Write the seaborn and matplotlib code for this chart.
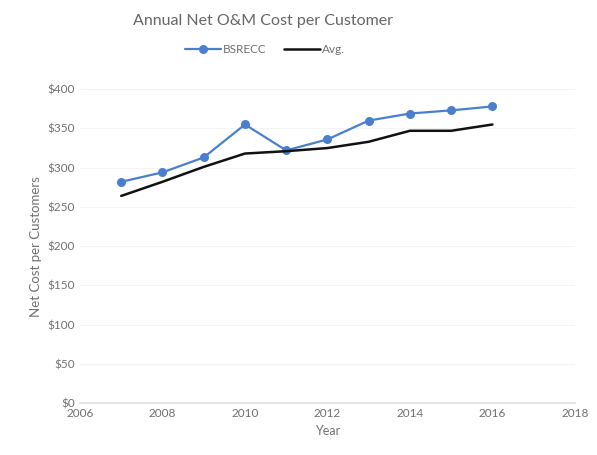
import matplotlib
matplotlib.use("Agg")
import matplotlib.pyplot as plt
import seaborn as sns
import pandas as pd

years = [2007, 2008, 2009, 2010, 2011, 2012, 2013, 2014, 2015, 2016]
bsrecc = [282, 294, 313, 355, 322, 336, 360, 369, 373, 378]
avg = [264, 282, 301, 318, 321, 325, 333, 347, 347, 355]
xticks = [2006, 2008, 2010, 2012, 2014, 2016, 2018]
yticks = [0, 50, 100, 150, 200, 250, 300, 350, 400]

sns.set_theme(style="white")
plt.rcParams['font.family'] = ['Lato', 'DejaVu Sans']

df = pd.DataFrame({"Year": years * 2,
                   "Value": bsrecc + avg,
                   "Series": ["BSRECC"] * len(years) + ["Avg."] * len(years)})

fig = plt.figure(figsize=(5.97, 4.55), dpi=100)
ax = fig.add_axes([0.134, 0.114, 0.829, 0.69])

sns.lineplot(data=df[df.Series == "BSRECC"], x="Year", y="Value", ax=ax,
             color="#4a7fd0", marker="o", markersize=6.5, markeredgewidth=0,
             linewidth=1.6, label="BSRECC")
sns.lineplot(data=df[df.Series == "Avg."], x="Year", y="Value", ax=ax,
             color="#111111", linewidth=1.8, label="Avg.")

ax.set_xlim(2006, 2018)
ax.set_ylim(0, 400)
ax.set_xticks(xticks)
ax.set_yticks(yticks)
ax.set_yticklabels([f"${v}" for v in yticks])
ax.tick_params(axis="both", labelsize=8.5, colors="#707070", length=0)
ax.yaxis.grid(True, color="#f4f4f4", linewidth=0.8)
for s in ["top", "right", "left"]:
    ax.spines[s].set_visible(False)
ax.spines["bottom"].set_color("#e0e0e0")
ax.set_xlabel("Year", fontsize=9, color="#707070")
ax.set_ylabel("Net Cost per Customers", fontsize=9.5, color="#707070")

fig.suptitle("Annual Net O&M Cost per Customer", x=0.44, y=0.97, fontsize=11.5, color="#666666")
leg = ax.legend(loc="center", bbox_to_anchor=(0.374, 1.125), ncol=2, frameon=False,
                fontsize=8.5, handlelength=3, columnspacing=1.5, handletextpad=0.2)
for t in leg.get_texts():
    t.set_color("#707070")

fig.savefig("out.png", dpi=100, facecolor="white")
